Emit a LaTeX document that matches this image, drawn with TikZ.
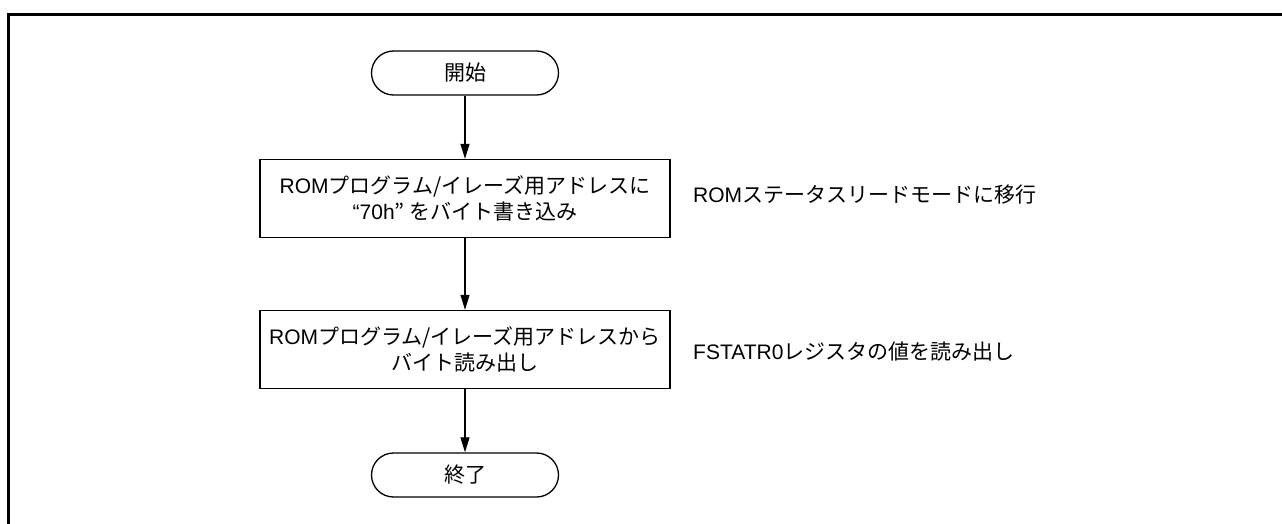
\documentclass[tikz,border=0pt]{standalone}
\usepackage{fontspec}
\setmainfont{Liberation Sans}
\newfontfamily\jp{Noto Sans CJK JP}
\usetikzlibrary{arrows.meta}
\begin{document}
\begin{tikzpicture}[x=1pt,y=-1pt,
  every node/.style={font=\fontsize{21pt}{26pt}\selectfont},
  term/.style={draw, line width=1.3pt, rounded corners=22pt, minimum width=187pt, minimum height=44pt, inner sep=0pt},
  proc/.style={draw, line width=1.3pt, minimum width=410pt, minimum height=78pt, align=center, inner sep=0pt},
  flow/.style={-{Triangle[length=15pt,width=9pt]}, line width=1.1pt},
  note/.style={anchor=west, inner sep=0pt},
  frame/.style={line width=3pt}]
\useasboundingbox (0,0) rectangle (1282,524);
\draw[frame] (8.5,524) -- (8.5,14.5) -- (1282,14.5);
\node[term] (start) at (465,73) {\jp 開始};
\node[proc] (p1) at (465,198.5) {ROM{\jp プログラム/イレーズ用アドレスに}\\“70h{\jp ” をバイト書き込み}};
\node[proc] (p2) at (465,349.5) {ROM{\jp プログラム/イレーズ用アドレスから}\\{\jp バイト読み出し}};
\node[term] (end) at (465,475) {\jp 終了};
\node[note] (n1) at (693,195) {ROM{\jp ステータスリードモードに移行}};
\node[note] (n2) at (693,352) {FSTATR0{\jp レジスタの値を読み出し}};
\draw[flow] (start) -- (p1);
\draw[flow] (p1) -- (p2);
\draw[flow] (p2) -- (end);
\end{tikzpicture}
\end{document}
